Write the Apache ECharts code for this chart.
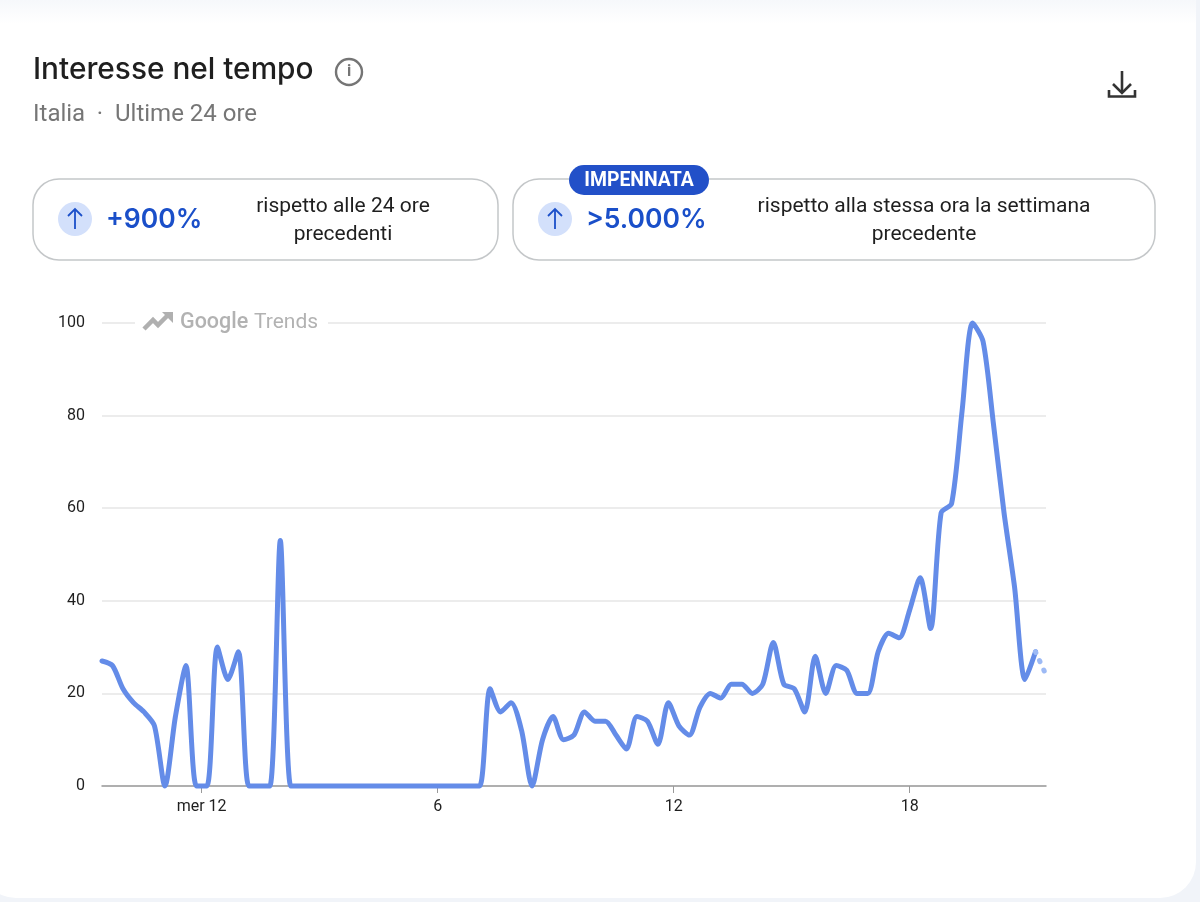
<!DOCTYPE html>
<html lang="it">
<head>
<meta charset="utf-8">
<title>Interesse nel tempo</title>
<script src="https://cdn.jsdelivr.net/npm/echarts@6/dist/echarts.min.js"></script>
<style>
html,body{margin:0;padding:0;background:#f1f4f9;}
#chart{width:1200px;height:902px;}
</style>
</head>
<body>
<div id="chart"></div>
<script>
// Values: one sample every 16 minutes over 24 hours.
const interestValues = [
  27,26,21,18,16,13,0,15,26,0,
  0,30,23,29,0,0,0,53,0,0,
  0,0,0,0,0,0,0,0,0,0,
  0,0,0,0,0,0,0,21,16,18,
  12,0,10,15,10,11,16,14,14,11,
  8,15,14,9,18,13,11,17,20,19,
  22,22,20,22,31,22,21,16,28,20,
  26,25,20,20,29,33,32,38,45,34,
  59,61,81,100,96,78,59,43,23,29,
  24
];
const sampleMinutes = 16;
const startMinutesBeforeMidnight = 152;
const partialPoints = 1;           // last sample is still incomplete (dotted)
const yTicks = [0, 20, 40, 60, 80, 100];
const xTickHours = [0, 6, 12, 18];
const xTickLabels = ['mer 12', '6', '12', '18'];

const FONT = 'Roboto, "Noto Sans", sans-serif';
const HEAD = 'Inter, Roboto, sans-serif';
const hourOf = i => (i * sampleMinutes - startMinutesBeforeMidnight) / 60;
const points = interestValues.map((v, i) => [hourOf(i), v]);
const solid = points.slice(0, points.length - partialPoints);
const partial = points.slice(points.length - partialPoints - 1);

function pill(x, y, w, h) {
  return {
    type: 'rect', z: 1,
    shape: { x: x, y: y, width: w, height: h, r: 26 },
    style: { fill: '#fff', stroke: '#c4c7c9', lineWidth: 1.5 }
  };
}
function text(x, y, t, font, fill, align) {
  return {
    type: 'text', z: 5, x: x, y: y,
    style: { text: t, font: font, fill: fill, align: align || 'left', verticalAlign: 'middle' }
  };
}
function arrowBadge(cx, cy) {
  return [
    { type: 'circle', z: 5, shape: { cx: cx, cy: cy, r: 17 }, style: { fill: '#d3e0fb' } },
    { type: 'polyline', z: 6, shape: { points: [[cx, cy + 10], [cx, cy - 10]] },
      style: { stroke: '#1a4fc9', lineWidth: 1.8, fill: null } },
    { type: 'polyline', z: 6, shape: { points: [[cx - 7, cy - 3], [cx, cy - 10], [cx + 7, cy - 3]] },
      style: { stroke: '#1a4fc9', lineWidth: 1.8, fill: null } }
  ];
}

const chart = echarts.init(document.getElementById('chart'), null, { width: 1200, height: 902 });
chart.setOption({
  animation: false,
  backgroundColor: '#f1f4f9',
  textStyle: { fontFamily: FONT },
  grid: { left: 102, right: 154, top: 323, bottom: 116, containLabel: false },
  xAxis: {
    type: 'value',
    min: hourOf(0),
    max: hourOf(interestValues.length - 1),
    splitLine: { show: false },
    axisLine: { lineStyle: { color: '#9a9a9a', width: 1.5 }, onZero: false },
    axisTick: { customValues: xTickHours, length: 7, lineStyle: { color: '#9a9a9a', width: 1 } },
    axisLabel: {
      customValues: xTickHours,
      formatter: v => xTickLabels[xTickHours.indexOf(v)],
      color: '#1f1f1f', fontSize: 16, margin: 13, fontFamily: FONT
    }
  },
  yAxis: {
    type: 'value', min: 0, max: 100, interval: 20,
    axisLine: { show: false }, axisTick: { show: false },
    splitLine: { lineStyle: { color: '#e6e6e6', width: 1.5 } },
    axisLabel: { color: '#1f1f1f', fontSize: 16, margin: 17, fontFamily: FONT, padding: [4, 0, 0, 0],
      formatter: v => yTicks.includes(v) ? String(v) : '' }
  },
  series: [
    {
      type: 'line', name: 'Interesse', data: solid, showSymbol: false, z: 4,
      smooth: 0.26, clip: false,
      lineStyle: { color: '#648ce8', width: 5, cap: 'round', join: 'round' }
    },
    {
      type: 'line', name: 'Parziale', data: partial, showSymbol: false, z: 4,
      smooth: 0.26, clip: false,
      lineStyle: { color: '#9dbaf5', width: 5, type: [1, 9], cap: 'round' }
    }
  ],
  graphic: [
    // card
    { type: 'rect', z: -10, silent: true,
      shape: { x: -20, y: -40, width: 1216, height: 938, r: 36 },
      style: { fill: '#ffffff' } },
    { type: 'rect', z: -9, silent: true,
      shape: { x: 0, y: 0, width: 1196, height: 24 },
      style: { fill: new echarts.graphic.LinearGradient(0, 0, 0, 1, [
        { offset: 0, color: '#f6f8fb' }, { offset: 1, color: '#ffffff' }]) } },
    // header
    text(33, 70, 'Interesse nel tempo', '500 29.8px ' + HEAD, '#1f1f1f'),
    { type: 'circle', z: 5, shape: { cx: 349, cy: 72, r: 13 },
      style: { fill: 'none', stroke: '#757575', lineWidth: 2.4 } },
    text(349, 72, 'i', '700 16px ' + FONT, '#757575', 'center'),
    text(33, 115, 'Italia', '400 24px ' + FONT, '#767676'),
    text(100, 115, '·', '400 24px ' + FONT, '#767676', 'center'),
    text(115, 115, 'Ultime 24 ore', '400 24px ' + FONT, '#767676'),
    // download icon
    { type: 'polyline', z: 5, shape: { points: [[1122, 71], [1122, 91]] },
      style: { stroke: '#333', lineWidth: 2.6, fill: null } },
    { type: 'polyline', z: 5, shape: { points: [[1113, 84], [1122, 93], [1131, 84]] },
      style: { stroke: '#333', lineWidth: 2.6, fill: null } },
    { type: 'polyline', z: 5, shape: { points: [[1109, 90], [1109, 96.5], [1135, 96.5], [1135, 90]] },
      style: { stroke: '#333', lineWidth: 2.6, fill: null } },
    // left stat
    pill(33, 179, 465, 81),
    ...arrowBadge(75, 219),
    text(106, 220, '+900%', '600 26.5px ' + HEAD, '#1a4fc9'),
    text(343, 207, 'rispetto alle 24 ore', '400 21px ' + FONT, '#1f1f1f', 'center'),
    text(343, 235, 'precedenti', '400 21px ' + FONT, '#1f1f1f', 'center'),
    // right stat
    pill(513, 179, 642, 81),
    ...arrowBadge(555, 219),
    { type: 'rect', z: 5, shape: { x: 569, y: 165, width: 140, height: 30, r: 15 },
      style: { fill: '#2250c8' } },
    text(639, 181, 'IMPENNATA', '700 19.4px ' + FONT, '#ffffff', 'center'),
    text(586, 220, '>5.000%', '600 26.5px ' + HEAD, '#1a4fc9'),
    text(924, 207, 'rispetto alla stessa ora la settimana', '400 21px ' + FONT, '#1f1f1f', 'center'),
    text(924, 235, 'precedente', '400 21px ' + FONT, '#1f1f1f', 'center'),
    // watermark
    { type: 'rect', z: 3, shape: { x: 135, y: 315, width: 193, height: 16 }, style: { fill: '#fff' } },
    { type: 'polyline', z: 5,
      shape: { points: [[144, 329], [153, 320], [158, 325], [168, 315]] },
      style: { stroke: '#b0b0b0', lineWidth: 4.5, fill: null } },
    { type: 'polygon', z: 5, shape: { points: [[162, 312], [173, 312], [173, 323]] },
      style: { fill: '#b0b0b0' } },
    text(180, 323, 'Google', '500 21.5px ' + FONT, '#b2b2b2'),
    text(254, 323, 'Trends', '400 21px ' + FONT, '#b2b2b2')
  ]
});
</script>
</body>
</html>
